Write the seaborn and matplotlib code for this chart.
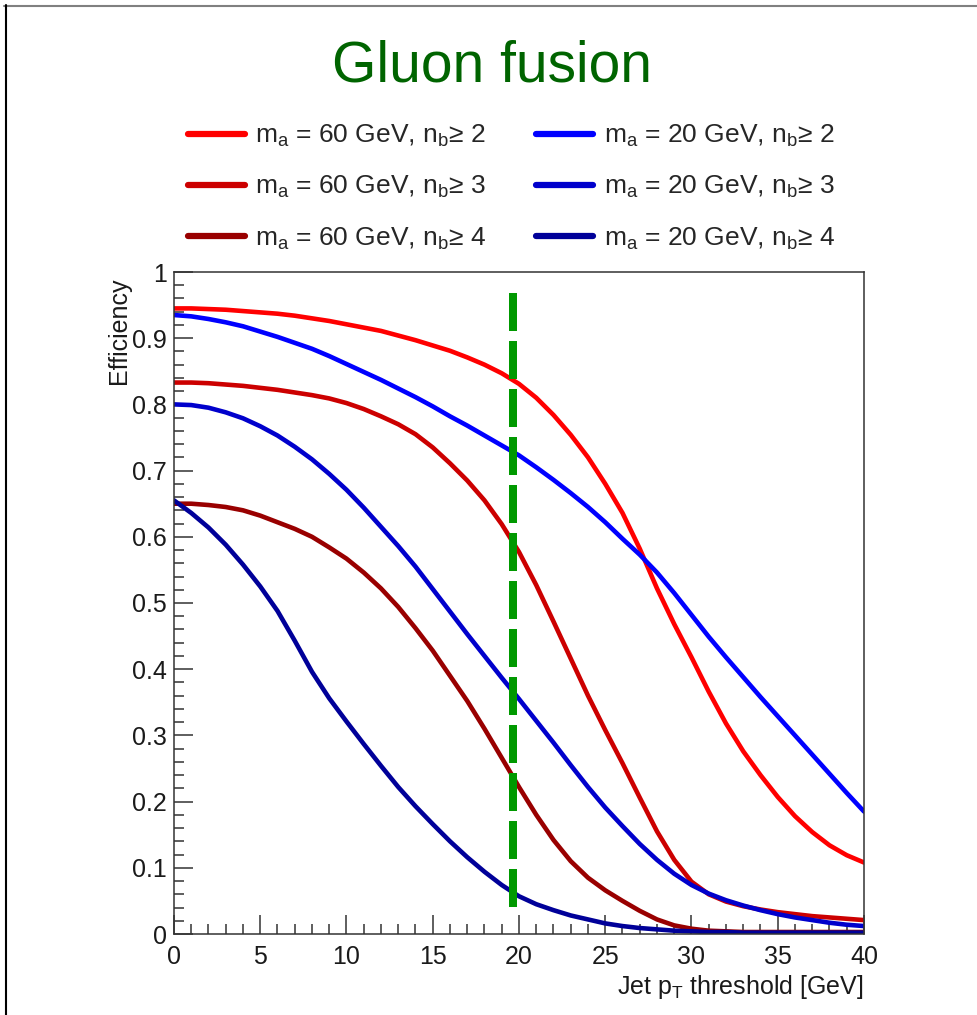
import numpy as np
import pandas as pd
import matplotlib
matplotlib.use("Agg")
import matplotlib.pyplot as plt
from matplotlib.lines import Line2D
from matplotlib.ticker import MultipleLocator, FixedLocator, FixedFormatter
import seaborn as sns

# Jet pT threshold [GeV]
pt = list(range(0, 41))

# Efficiencies, m_a = 60 GeV
eff_60_nb2 = [0.945, 0.945, 0.944, 0.943, 0.941, 0.939, 0.937, 0.934, 0.930, 0.926,
              0.921, 0.916, 0.911, 0.904, 0.897, 0.889, 0.881, 0.871, 0.860, 0.847,
              0.831, 0.810, 0.784, 0.754, 0.720, 0.680, 0.636, 0.582, 0.522, 0.468,
              0.418, 0.366, 0.318, 0.276, 0.240, 0.207, 0.178, 0.154, 0.134, 0.119,
              0.108]
eff_60_nb3 = [0.833, 0.833, 0.832, 0.830, 0.828, 0.825, 0.822, 0.818, 0.814, 0.809,
              0.802, 0.793, 0.782, 0.770, 0.755, 0.735, 0.711, 0.685, 0.655, 0.619,
              0.577, 0.527, 0.472, 0.416, 0.360, 0.308, 0.258, 0.206, 0.155, 0.112,
              0.079, 0.060, 0.049, 0.042, 0.037, 0.033, 0.030, 0.027, 0.025, 0.023,
              0.021]
eff_60_nb4 = [0.650, 0.650, 0.648, 0.645, 0.640, 0.632, 0.622, 0.612, 0.600, 0.584,
              0.567, 0.546, 0.522, 0.494, 0.462, 0.428, 0.390, 0.352, 0.310, 0.266,
              0.222, 0.180, 0.142, 0.110, 0.085, 0.066, 0.050, 0.035, 0.022, 0.013,
              0.008, 0.005, 0.004, 0.003, 0.003, 0.003, 0.003, 0.003, 0.003, 0.003,
              0.003]

# Efficiencies, m_a = 20 GeV
eff_20_nb2 = [0.935, 0.933, 0.929, 0.924, 0.918, 0.910, 0.902, 0.893, 0.884, 0.873,
              0.861, 0.849, 0.837, 0.824, 0.811, 0.797, 0.782, 0.768, 0.753, 0.738,
              0.723, 0.705, 0.686, 0.666, 0.645, 0.622, 0.597, 0.573, 0.546, 0.515,
              0.482, 0.449, 0.418, 0.388, 0.358, 0.329, 0.300, 0.271, 0.242, 0.213,
              0.185]
eff_20_nb3 = [0.800, 0.799, 0.795, 0.788, 0.779, 0.767, 0.753, 0.736, 0.717, 0.695,
              0.671, 0.644, 0.615, 0.586, 0.555, 0.521, 0.487, 0.453, 0.420, 0.387,
              0.355, 0.322, 0.289, 0.255, 0.222, 0.191, 0.163, 0.136, 0.112, 0.091,
              0.074, 0.061, 0.051, 0.043, 0.036, 0.030, 0.025, 0.021, 0.017, 0.014,
              0.012]
eff_20_nb4 = [0.655, 0.636, 0.614, 0.588, 0.558, 0.525, 0.488, 0.443, 0.396, 0.356,
              0.321, 0.287, 0.254, 0.222, 0.193, 0.166, 0.140, 0.116, 0.094, 0.074,
              0.057, 0.045, 0.036, 0.028, 0.022, 0.016, 0.012, 0.009, 0.007, 0.005,
              0.004, 0.003, 0.003, 0.002, 0.002, 0.002, 0.002, 0.002, 0.002, 0.002,
              0.002]

series_labels = [
    r"m$_{\mathregular{a}}$ = 60 GeV, n$_{\mathregular{b}}$≥ 2",
    r"m$_{\mathregular{a}}$ = 60 GeV, n$_{\mathregular{b}}$≥ 3",
    r"m$_{\mathregular{a}}$ = 60 GeV, n$_{\mathregular{b}}$≥ 4",
    r"m$_{\mathregular{a}}$ = 20 GeV, n$_{\mathregular{b}}$≥ 2",
    r"m$_{\mathregular{a}}$ = 20 GeV, n$_{\mathregular{b}}$≥ 3",
    r"m$_{\mathregular{a}}$ = 20 GeV, n$_{\mathregular{b}}$≥ 4",
]
series_values = [eff_60_nb2, eff_60_nb3, eff_60_nb4, eff_20_nb2, eff_20_nb3, eff_20_nb4]
series_colors = ["#ff0000", "#cc0000", "#990000", "#0000ff", "#0000cc", "#000099"]

x_ticks = [0, 5, 10, 15, 20, 25, 30, 35, 40]
y_ticks = [0, 0.1, 0.2, 0.3, 0.4, 0.5, 0.6, 0.7, 0.8, 0.9, 1.0]
y_tick_labels = ["0", "0.1", "0.2", "0.3", "0.4", "0.5", "0.6", "0.7", "0.8", "0.9", "1"]

# Selection cut on jet pT
pt_cut = 19.65

df = pd.concat(
    [pd.DataFrame({"pt": pt, "eff": vals, "series": lab})
     for lab, vals in zip(series_labels, series_values)],
    ignore_index=True,
)

sns.set_theme(style="white")
plt.rcParams["font.family"] = ["Liberation Sans", "DejaVu Sans"]
plt.rcParams["mathtext.fontset"] = "custom"
plt.rcParams["mathtext.rm"] = "Liberation Sans"
plt.rcParams["mathtext.it"] = "Liberation Sans:italic"
plt.rcParams["mathtext.bf"] = "Liberation Sans:bold"

W, H = 978, 1015
fig = plt.figure(figsize=(W / 100, H / 100), dpi=100)
fig.patch.set_facecolor("white")
ax = fig.add_axes([174 / W, 1 - 934 / H, 690 / W, 662 / H])

sns.lineplot(data=df, x="pt", y="eff", hue="series", hue_order=series_labels,
             palette=series_colors, linewidth=3.3, estimator=None, ax=ax, legend=True)

# Vertical cut line
ax.plot([pt_cut, pt_cut], [0.968, 0.041], color="#009900", lw=5.76,
        dashes=(4.75, 1.25), dash_capstyle="butt", zorder=5)

ax.set_xlim(0, 40)
ax.set_ylim(0, 1)
ax.xaxis.set_major_locator(FixedLocator(x_ticks))
ax.xaxis.set_minor_locator(MultipleLocator(1))
ax.yaxis.set_major_locator(FixedLocator(y_ticks))
ax.yaxis.set_major_formatter(FixedFormatter(y_tick_labels))
ax.yaxis.set_minor_locator(MultipleLocator(0.02))
ax.set_xticklabels([str(t) for t in x_ticks])

ax.tick_params(which="both", direction="in", top=False, right=False,
               bottom=True, left=True, color="#333333", width=1.1)
ax.tick_params(which="major", length=14, labelsize=18, labelcolor="#1a1a1a")
ax.tick_params(axis="x", which="major", pad=8)
ax.tick_params(axis="y", which="major", pad=5)
ax.tick_params(which="minor", length=7)
for sp in ax.spines.values():
    sp.set_visible(True)
    sp.set_color("#333333")
    sp.set_linewidth(1.1)

ax.set_xlabel(r"Jet p$_{\mathregular{T}}$ threshold [GeV]", fontsize=18, loc="right",
              color="#1a1a1a")
ax.xaxis.set_label_coords(1.0, -0.059)
ax.xaxis.label.set_va("top")
ax.set_ylabel("Efficiency", fontsize=18, loc="top", color="#1a1a1a")
ax.yaxis.set_label_coords(-0.062, 0.991)

handles, labels = ax.get_legend_handles_labels()
ax.get_legend().remove()
leg = fig.legend(handles, labels, ncol=2, loc="upper left",
                 bbox_to_anchor=(188 / W, 1 - 123 / H), frameon=False, fontsize=19,
                 handlelength=2.15, handletextpad=0.4, columnspacing=1.9,
                 labelspacing=0.95, borderpad=0, borderaxespad=0)
for h in leg.legend_handles:
    h.set_linewidth(4.5)

fig.text(492 / W, 1 - 82 / H, "Gluon fusion", color="#006400", fontsize=41,
         ha="center", va="baseline")

# Page frame lines
fig.add_artist(Line2D([4 / W, 1], [1 - 6 / H, 1 - 6 / H], color="#808080", lw=1.5))
fig.add_artist(Line2D([6 / W, 6 / W], [0, 1 - 5 / H], color="black", lw=1.5))

fig.savefig("out.png", dpi=100)
